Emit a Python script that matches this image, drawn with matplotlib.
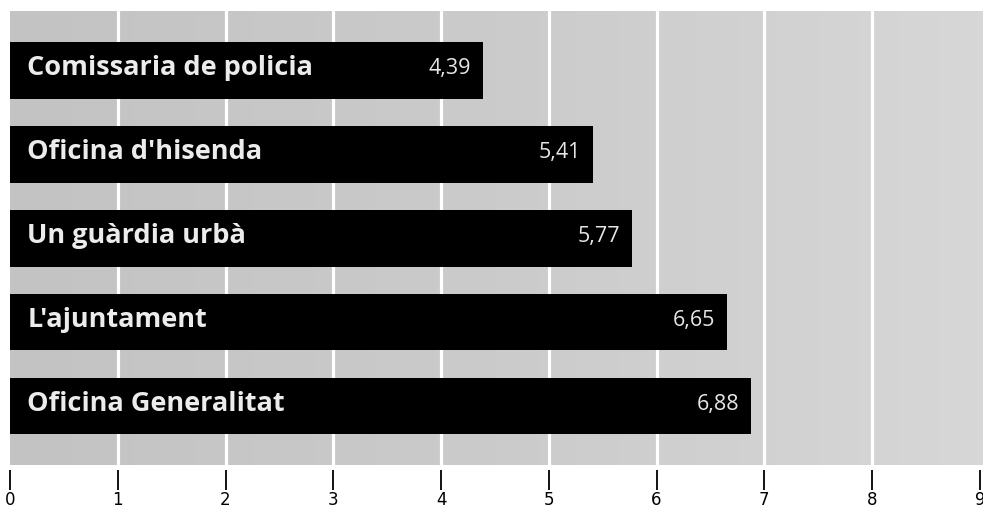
import matplotlib
matplotlib.use("Agg")
import matplotlib.pyplot as plt
import numpy as np
from matplotlib.colors import LinearSegmentedColormap

categories = ["Comissaria de policia", "Oficina d'hisenda", "Un guàrdia urbà",
              "L'ajuntament", "Oficina Generalitat"]
values = [4.39, 5.41, 5.77, 6.65, 6.88]
value_labels = ["4,39", "5,41", "5,77", "6,65", "6,88"]
xticks = list(range(0, 10))

W, H = 983, 509
fig = plt.figure(figsize=(W / 100, H / 100), dpi=100)
fig.patch.set_facecolor("white")

ax_left, ax_right = 10 / W, 1.0
ax_top_px, ax_bot_px = 11, 470
gray_bot_px = 465
ax = fig.add_axes([ax_left, (H - ax_bot_px) / H, ax_right - ax_left, (ax_bot_px - ax_top_px) / H])
ax.set_facecolor("white")
ax.set_xlim(0, 9.03)
ax.set_ylim(4.76, -0.71)

gfrac = (ax_bot_px - gray_bot_px) / (ax_bot_px - ax_top_px)
cmap = LinearSegmentedColormap.from_list("g", ["#c3c3c3", "#cbcbcb", "#d7d7d7"])
grad = np.linspace(0, 1, 256).reshape(1, -1)
ax.imshow(grad, cmap=cmap, aspect="auto", extent=(0, 1, gfrac, 1),
          transform=ax.transAxes, zorder=0, interpolation="bilinear")

for t in range(1, 9):
    ax.axvline(t, ymin=gfrac, ymax=1, color="white", lw=2.3, zorder=1)

ypos = np.arange(len(categories))
ax.barh(ypos, values, height=0.67, color="black", zorder=2)

label_font = ["Open Sans", "DejaVu Sans"]
for y, c, v, vl in zip(ypos, categories, values, value_labels):
    ax.text(0.16, y - 0.03, c, color="#ececec", fontsize=19.5, fontweight="bold",
            family=label_font, va="center", ha="left", zorder=3)
    ax.text(v - 0.11, y - 0.02, vl, color="#e6e6e6", fontsize=15.5,
            family=label_font, va="center", ha="right", zorder=3)

for s in ax.spines.values():
    s.set_visible(False)
ax.set_yticks([])
ax.set_xticks(xticks)
ax.set_xticklabels([str(t) for t in xticks], family=["Liberation Sans Narrow", "DejaVu Sans"],
                   fontsize=12)
ax.tick_params(axis="x", direction="out", length=14.5, width=1.3, color="black", pad=0.8)

fig.savefig("out.png", dpi=100, facecolor="white")
